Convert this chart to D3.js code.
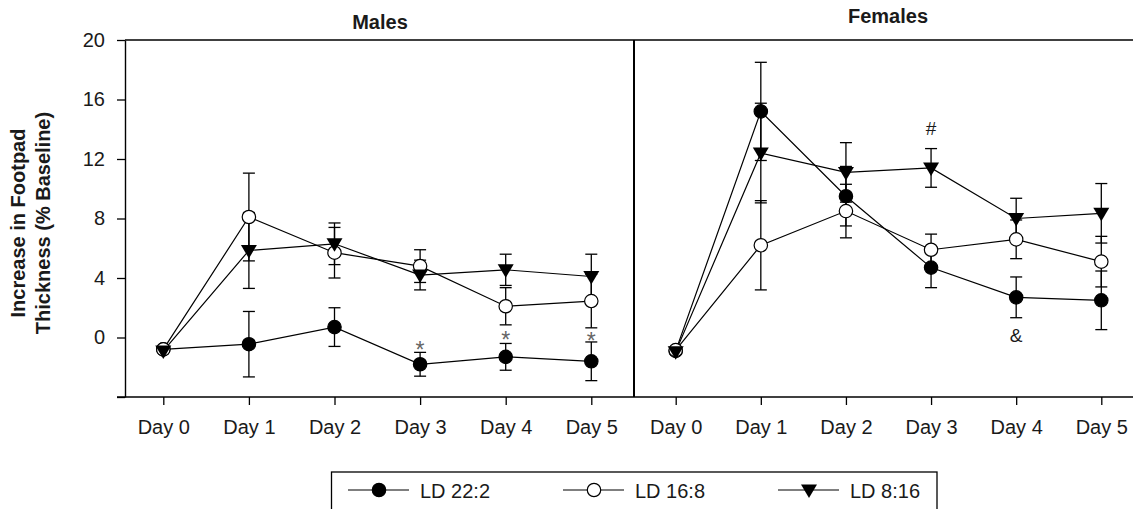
<!DOCTYPE html>
<html>
<head>
<meta charset="utf-8">
<script src="https://cdn.jsdelivr.net/npm/d3@7"></script>
<style>
  body { margin: 0; background: #fff; }
  svg { font-family: "Liberation Sans", Arial, sans-serif; }
</style>
</head>
<body>
<svg id="chart" width="1133" height="509"></svg>
<script>
// ---- data ----
const days = ['Day 0', 'Day 1', 'Day 2', 'Day 3', 'Day 4', 'Day 5'];
const groups = ['LD 22:2', 'LD 16:8', 'LD 8:16'];
const yTicks = [0, 4, 8, 12, 16, 20];

// Males
const maleLD22 = [-0.8, -0.45, 0.7, -1.8, -1.3, -1.6];
const maleLD22Err = [0, 2.2, 1.3, 0.8, 0.9, 1.3];
const maleLD16 = [-0.8, 8.1, 5.7, 4.8, 2.1, 2.45];
const maleLD16Err = [0, 2.95, 1.7, 1.1, 1.25, 1.8];
const maleLD8 = [-0.9, 5.85, 6.3, 4.2, 4.55, 4.1];
const maleLD8Err = [0, 2.55, 1.4, 1.0, 1.05, 1.5];
// significance marks: [day, value at glyph centre, glyph]
const maleMarks = [['Day 3', -0.46, '*'], ['Day 4', 0.22, '*'], ['Day 5', 0.15, '*']];

// Females
const femLD22 = [-0.9, 15.2, 9.5, 4.7, 2.7, 2.5];
const femLD22Err = [0, 3.3, 2.0, 1.35, 1.37, 1.97];
const femLD16 = [-0.85, 6.2, 8.5, 5.9, 6.6, 5.1];
const femLD16Err = [0, 3.0, 1.8, 1.05, 1.3, 1.7];
const femLD8 = [-0.95, 12.4, 11.1, 11.4, 8.0, 8.35];
const femLD8Err = [0, 3.35, 2.0, 1.3, 1.36, 2.0];
const femMarks = [['Day 3', 14.06, '#'], ['Day 4', 0.17, '&']];

// ---- layout ----
const svg = d3.select('#chart');
const pTop = 40, pBottom = 397, pLeft = 125, pMid = 634, pRight = 1133;
const FS = 20;

const y = d3.scaleLinear().domain([-4, 20]).range([pBottom, pTop]);
const xM = d3.scalePoint().domain(days).range([163.3, 591.3]);
const xF = d3.scalePoint().domain(days).range([675.7, 1101.3]);

// frame
svg.append('line').attr('x1', pLeft).attr('x2', pRight).attr('y1', pTop).attr('y2', pTop)
  .attr('stroke', '#000').attr('stroke-width', 1.4);
svg.append('line').attr('x1', pMid).attr('x2', pMid).attr('y1', pTop).attr('y2', pBottom)
  .attr('stroke', '#000').attr('stroke-width', 2);

// y axis
const yAxis = svg.append('g').attr('transform', `translate(${pLeft},0)`)
  .call(d3.axisLeft(y).tickValues([-4, ...yTicks]).tickSize(8).tickSizeOuter(0)
    .tickFormat(d => d < 0 ? '' : d));
yAxis.select('.domain').attr('stroke-width', 1.4);
yAxis.selectAll('.tick line').attr('stroke-width', 1.3);
yAxis.selectAll('text').attr('font-size', FS).attr('fill', '#1a1a1a').attr('x', -20)
  .attr('font-family', '"Liberation Sans", Arial, sans-serif');

// x axes
svg.append('line').attr('x1', pLeft - 8).attr('x2', pRight)
  .attr('y1', pBottom).attr('y2', pBottom).attr('stroke', '#000').attr('stroke-width', 1.4);
[xM, xF].forEach(x => {
  const g = svg.append('g').attr('transform', `translate(0,${pBottom})`)
    .call(d3.axisBottom(x).tickSize(8).tickSizeOuter(0));
  g.select('.domain').remove();
  g.selectAll('.tick line').attr('stroke-width', 1.3);
  g.selectAll('text').attr('font-size', FS).attr('fill', '#1a1a1a').attr('y', 23)
    .attr('font-family', '"Liberation Sans", Arial, sans-serif');
});

// titles
svg.append('text').attr('x', 380).attr('y', 29).attr('text-anchor', 'middle')
  .attr('font-size', FS).attr('font-weight', 'bold').attr('fill', '#1a1a1a').text('Males');
svg.append('text').attr('x', 888).attr('y', 23).attr('text-anchor', 'middle')
  .attr('font-size', FS).attr('font-weight', 'bold').attr('fill', '#1a1a1a').text('Females');

// y label (two lines)
[['Increase in Footpad', 25], ['Thickness (% Baseline)', 50]].forEach(([t, bx]) => {
  svg.append('text').attr('transform', `translate(${bx},223) rotate(-90)`)
    .attr('text-anchor', 'middle').attr('font-size', FS).attr('font-weight', 'bold')
    .attr('fill', '#1a1a1a').text(t);
});

// ---- markers ----
function marker(sel, kind) {
  if (kind === 2) {
    sel.append('path').attr('d', 'M-8,-5.5 L8,-5.5 L0,8 Z').attr('fill', '#000');
  } else {
    sel.append('circle').attr('r', 6.7)
      .attr('fill', kind === 0 ? '#000' : '#fff')
      .attr('stroke', '#000').attr('stroke-width', 1.2);
  }
}

function drawPanel(x, series, marks) {
  const g = svg.append('g');
  const line = d3.line().x((d, i) => x(days[i])).y(d => y(d));
  series.forEach(s => {
    g.append('path').attr('d', line(s.v)).attr('fill', 'none')
      .attr('stroke', '#000').attr('stroke-width', 1.2);
  });
  series.forEach(s => {
    s.v.forEach((v, i) => {
      const e = s.e[i];
      if (!e) return;
      const cx = x(days[i]);
      const eg = g.append('g').attr('stroke', '#000').attr('stroke-width', 1.3);
      eg.append('line').attr('x1', cx).attr('x2', cx).attr('y1', y(v - e)).attr('y2', y(v + e));
      [v - e, v + e].forEach(t => eg.append('line').attr('x1', cx - 6).attr('x2', cx + 6)
        .attr('y1', y(t)).attr('y2', y(t)));
    });
  });
  series.forEach(s => {
    s.v.forEach((v, i) => {
      g.append('g').attr('transform', `translate(${x(days[i])},${y(v)})`).call(marker, s.k);
    });
  });
  marks.forEach(([d, v, t]) => {
    const star = t === '*';
    const fs = star ? 23 : 19;
    g.append('text').attr('x', x(d)).attr('y', y(v) + (star ? 0.6 : 0.36) * fs)
      .attr('text-anchor', 'middle').attr('font-size', fs)
      .attr('fill', star ? '#666' : '#1a1a1a').text(t);
  });
}

drawPanel(xM, [
  { v: maleLD22, e: maleLD22Err, k: 0 },
  { v: maleLD16, e: maleLD16Err, k: 1 },
  { v: maleLD8, e: maleLD8Err, k: 2 }
], maleMarks);

drawPanel(xF, [
  { v: femLD22, e: femLD22Err, k: 0 },
  { v: femLD16, e: femLD16Err, k: 1 },
  { v: femLD8, e: femLD8Err, k: 2 }
], femMarks);

// ---- legend ----
const lg = svg.append('g');
lg.append('rect').attr('x', 331.5).attr('y', 472).attr('width', 605.5).attr('height', 60)
  .attr('fill', 'none').attr('stroke', '#000').attr('stroke-width', 1.3);
groups.forEach((name, i) => {
  const x0 = 348 + i * 215;
  const it = lg.append('g').attr('transform', `translate(${x0},490)`);
  it.append('line').attr('x1', 0).attr('x2', 61).attr('stroke', '#000').attr('stroke-width', 1.2);
  it.append('g').attr('transform', 'translate(31,0)').call(marker, i);
  it.append('text').attr('x', 72).attr('y', 8).attr('font-size', FS).attr('fill', '#1a1a1a').text(name);
});
</script>
</body>
</html>
